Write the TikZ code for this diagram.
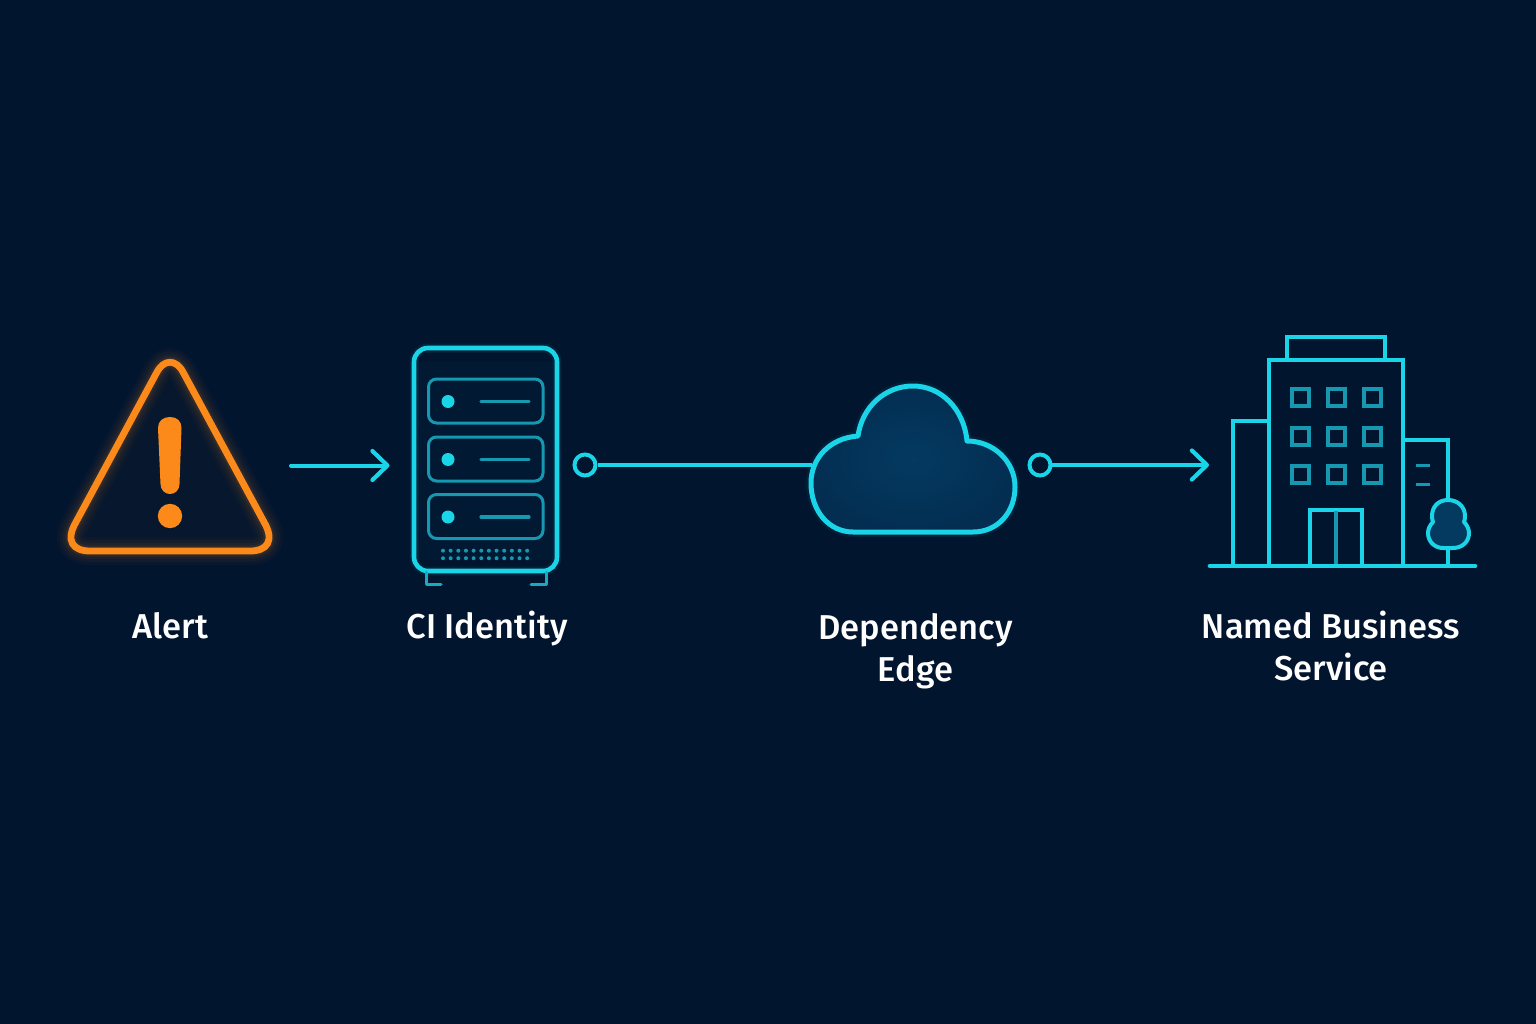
\documentclass[tikz,border=0pt]{standalone}
\usepackage{fontspec}
\setmainfont{Fira Sans}[UprightFont=* Medium]
\usetikzlibrary{arrows.meta}
\definecolor{bgnavy}{HTML}{02152F}
\definecolor{cyanline}{HTML}{1AD5E8}
\definecolor{cyandim}{HTML}{1698B0}
\definecolor{amber}{HTML}{FB8A1A}
\definecolor{cloudin}{HTML}{043A60}
\definecolor{cloudout}{HTML}{032E52}
\tikzset{
  x=1pt,y=-1pt,
  mainline/.style={draw=cyanline,line width=4.6pt,line join=round,line cap=round},
  dimline/.style={draw=cyandim,line width=3pt,line join=round,line cap=round},
  connector/.style={draw=cyanline,line width=4pt,line cap=round},
  barbed/.style={connector,-{Straight Barb[length=15pt,width=29pt,line width=4.2pt,round]}},
  ring/.style={circle,draw=cyanline,line width=4pt,minimum size=21pt,inner sep=0pt},
  caption/.style={text=white,align=center,font=\fontsize{34.5}{42}\selectfont,inner sep=0pt},
  alarmline/.style={draw=amber,line width=6.8pt,line join=round},
  lamp/.style={fill=cyanline,draw=none},
  tiny/.style={fill=cyandim,draw=none},
  bay/.style={dimline,rounded corners=8pt},
  win/.style={draw=cyandim,line width=4pt},
}
\begin{document}
\begin{tikzpicture}
\useasboundingbox[fill=bgnavy] (0,0) rectangle (1536,1024);

% --- alert
\def\tri{(157,372) -- (76,522) .. controls (65,541) and (73,551) .. (90,551) -- (250,551) .. controls (267,551) and (275,541) .. (264,522) -- (183,372) .. controls (176,359) and (164,359) .. (157,372) -- cycle}
\fill[amber,opacity=0.02] \tri;
\foreach \w/\o in {28/0.03,22/0.04,16/0.05,11/0.08}{
  \draw[amber,line width=\w pt,opacity=\o,line join=round] \tri;
}
\draw[alarmline] \tri;
\fill[amber] (158,428) .. controls (158,421) and (163,417) .. (170,417) .. controls (177,417) and (181.5,421) .. (181.5,428)
  -- (179.5,484) .. controls (179.5,490) and (175,494) .. (170,494) .. controls (165,494) and (160.5,490) .. (160.5,484) -- cycle;
\fill[amber] (170,516) circle[radius=12.2];
\node[caption] (alertlabel) at (170.5,626) {Alert};

% --- arrow 1
\coordinate (alertout) at (291,465.5);
\coordinate (ciin) at (389.5,465.5);
\draw[barbed] (alertout) -- (ciin);

% --- server
\fill[cyanline,opacity=0.025] (414,362) rectangle (557,560);
\draw[cyanline,line width=9pt,opacity=0.07,rounded corners=14pt] (414,348) rectangle (557,571);
\draw[mainline,rounded corners=14pt] (414,348) rectangle (557,571);
\foreach \t in {379,437,494.5}{
  \draw[bay] (428.5,\t) rectangle (543,\t+44);
  \draw[dimline,line width=3.2pt] (481,\t+22.5) -- (529,\t+22.5);
  \fill[lamp] (448,\t+22.5) circle[radius=6.5];
}
\foreach \c in {0,...,11}{
  \fill[tiny] (443+\c*7.65,550.7) circle[radius=2];
  \fill[tiny] (443+\c*7.65,558.2) circle[radius=2];
}
\draw[dimline,draw=cyandim!70!cyanline] (426,572) -- (426,584) -- (441,584);
\draw[dimline,draw=cyandim!70!cyanline] (546,572) -- (546,584) -- (531,584);
\node[caption] (cilabel) at (487,629) {CI Identity};

% --- connector to cloud
\node[ring] (ciport) at (585,465) {};
\coordinate (cloudin) at (812,465);
\draw[connector,line cap=butt] (ciport) -- (cloudin);

% --- cloud
\def\cld{(853,532) -- (973,532) .. controls (998,532) and (1015,512) .. (1015,487) .. controls (1015,461) and (993,441) .. (967,441)
  .. controls (964,409) and (941,386) .. (913,386) .. controls (885,386) and (862,407) .. (858,436)
  .. controls (830,438) and (811,458) .. (811,483) .. controls (811,511) and (829,532) .. (853,532) -- cycle}
\draw[cyanline,line width=10pt,opacity=0.06,line join=round] \cld;
\path[inner color=cloudin,outer color=cloudout,shading=radial] \cld;
\draw[mainline,line width=5pt] \cld;
\node[caption] (edgelabel) at (915.5,651) {Dependency\\Edge};

% --- connector to building
\node[ring] (edgeport) at (1040,465) {};
\coordinate (bizin) at (1209,465);
\draw[barbed] (edgeport) -- (bizin);

% --- building
\draw[mainline,line cap=butt,line join=miter] (1287,360) -- (1287,337) -- (1385,337) -- (1385,360);
\draw[mainline,line cap=butt,line join=miter] (1269,566) -- (1269,360) -- (1403,360) -- (1403,566);
\draw[mainline,line cap=butt,line join=miter] (1269,421) -- (1233,421) -- (1233,566);
\draw[mainline,line cap=butt,line join=miter] (1403,440) -- (1448,440) -- (1448,500);
\foreach \r in {397,436,474}{
  \foreach \q in {1300,1336,1372}{
    \draw[win] (\q-8.5,\r-8.5) rectangle (\q+8.5,\r+8.5);
  }
}
\draw[mainline,line width=4pt,line cap=butt,line join=miter] (1310,566) -- (1310,509.5) -- (1362,509.5) -- (1362,566);
\draw[win,line width=3.2pt] (1336,511) -- (1336,566);
\draw[dimline,line width=2.8pt,line cap=butt] (1416,465.5) -- (1430,465.5);
\draw[dimline,line width=2.8pt,line cap=butt] (1416,484.5) -- (1430,484.5);
\draw[mainline,line width=4pt,line cap=butt] (1448,548) -- (1448,566);
\draw[mainline,line width=4pt,fill=cloudin] (1448,500) .. controls (1438,500) and (1432,507) .. (1432,516)
  .. controls (1432,519) and (1432.5,521) .. (1433,522)
  .. controls (1430,525) and (1428,529) .. (1428,533)
  .. controls (1428,542) and (1435,548) .. (1443,548) -- (1453,548)
  .. controls (1462,548) and (1469,542) .. (1469,533)
  .. controls (1469,529) and (1467,525) .. (1464,522)
  .. controls (1464.5,521) and (1465,519) .. (1465,516)
  .. controls (1465,507) and (1458,500) .. (1448,500) -- cycle;
\draw[mainline] (1210,566) -- (1475,566);
\node[caption] (bizlabel) at (1331,646) {Named Business\\Service};
\end{tikzpicture}
\end{document}
